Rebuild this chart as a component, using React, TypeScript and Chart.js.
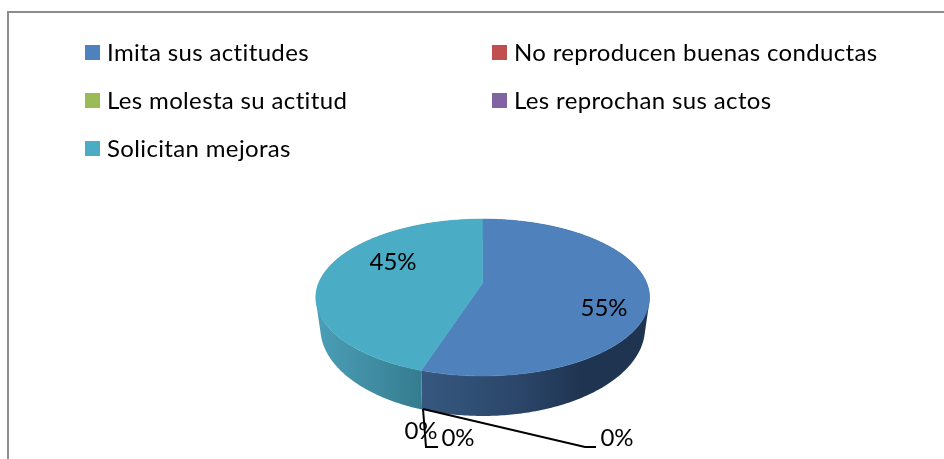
import React, { useEffect, useRef } from "react";
import { Chart, registerables } from "chart.js";

Chart.register(...registerables);

const categories = [
  "Imita sus actitudes",
  "No reproducen buenas conductas",
  "Les molesta su actitud",
  "Les reprochan sus actos",
  "Solicitan mejoras",
];
const values = [55, 0, 0, 0, 45];
const colors = ["#4F81BD", "#C0504D", "#9BBB59", "#8064A2", "#4BACC6"];
const sideStops: Record<number, [number, string][]> = {
  0: [[0, "#36587F"], [0.45, "#2A4568"], [0.7, "#1F3450"], [1, "#1F3450"]],
  4: [[0, "#4A9EB6"], [0.55, "#408CA2"], [1, "#357C8F"]],
};
const FONT = "24px Lato";
const legendCols = [85, 492];
const legendRows = [45, 93, 141];
const labelPos = [
  [604, 308],
  [617, 438],
  [458, 438],
  [421, 431],
  [393, 262],
];
const leaderLines = [
  [[423, 409], [585, 447], [596, 447]],
  [[423, 409], [426, 447], [438, 447]],
];

const K = 0.185;
function top(x: number, y: number, R: number, t: number) {
  const u = Math.sin(t), v = Math.cos(t), d = 1 + K * v;
  return [x + (R * u) / d, y - (0.462 * R * v) / d];
}
const K2 = 0.2;
function bottom(x: number, y: number, R: number, t: number) {
  const u = Math.sin(t), v = Math.cos(t), d = 1 + K2 * v;
  return [x + (0.97 * R * u) / d, y + 27.4 - (0.515 * R * v) / d];
}

const pie3d = {
  id: "pie3d",
  beforeDraw(chart: any) {
    const c = chart.ctx;
    c.save();
    c.fillStyle = "#fff";
    c.fillRect(0, 0, 944, 459);
    c.strokeStyle = "#8C8C8C";
    c.lineWidth = 2;
    c.beginPath();
    c.moveTo(8, 459);
    c.lineTo(8, 12);
    c.lineTo(944, 12);
    c.stroke();
    c.restore();
  },
  beforeDatasetDraw(chart: any) {
    const c = chart.ctx;
    const arcs = chart.getDatasetMeta(0).data;
    c.save();
    arcs.forEach((a: any, i: number) => {
      const { x, y, outerRadius: R, startAngle, endAngle } = a;
      const s = startAngle + Math.PI / 2, e = endAngle + Math.PI / 2;
      if (e - s < 1e-4) return;
      const N = Math.max(2, Math.ceil((e - s) * 80));
      const tp: number[][] = [], bt: number[][] = [];
      for (let j = 0; j <= N; j++) {
        const t = s + ((e - s) * j) / N;
        tp.push(top(x, y, R, t));
        bt.push(bottom(x, y, R, t));
      }
      const xs = tp.map((p) => p[0]);
      const front = tp.map((p, j) => j).filter((j) => Math.cos(s + ((e - s) * j) / N) < 0.05);
      const fx = front.map((j) => tp[j][0]);
      const g = c.createLinearGradient(Math.min(...(fx.length ? fx : xs)), 0, Math.max(...(fx.length ? fx : xs)), 0);
      (sideStops[i] || [[0, colors[i]], [1, colors[i]]]).forEach(([o, col]) => g.addColorStop(o, col));
      c.fillStyle = g;
      c.beginPath();
      for (let j = 0; j < N; j++) {
        let q = [tp[j], tp[j + 1], bt[j + 1], bt[j]];
        let area = 0;
        q.forEach((p, n) => {
          const r = q[(n + 1) % 4];
          area += p[0] * r[1] - r[0] * p[1];
        });
        if (area < 0) q = q.reverse();
        q.forEach((p, n) => (n ? c.lineTo(p[0], p[1]) : c.moveTo(p[0], p[1])));
        c.closePath();
      }
      c.fill();
    });
    arcs.forEach((a: any, i: number) => {
      const { x, y, outerRadius: R, startAngle, endAngle } = a;
      const s = startAngle + Math.PI / 2, e = endAngle + Math.PI / 2;
      if (e - s < 1e-4) return;
      const N = Math.ceil((e - s) * 60);
      c.fillStyle = colors[i];
      c.strokeStyle = colors[i];
      c.lineWidth = 0.5;
      c.beginPath();
      c.moveTo(x, y);
      for (let j = 0; j <= N; j++) {
        const p = top(x, y, R, s + ((e - s) * j) / N);
        c.lineTo(p[0], p[1]);
      }
      c.closePath();
      c.fill();
      c.stroke();
    });
    c.restore();
    return false;
  },
  afterDatasetsDraw(chart: any) {
    const c = chart.ctx;
    c.save();
    c.strokeStyle = "#000";
    c.lineWidth = 2;
    leaderLines.forEach((pts) => {
      c.beginPath();
      pts.forEach((p, j) => (j ? c.lineTo(p[0], p[1]) : c.moveTo(p[0], p[1])));
      c.stroke();
    });
    c.font = FONT;
    c.fillStyle = "#000";
    c.textBaseline = "middle";
    c.textAlign = "center";
    const data = chart.data.datasets[0].data as number[];
    const total = data.reduce((p, q) => p + q, 0);
    data.forEach((v, i) => {
      c.fillText(`${Math.round((v / total) * 100)}%`, labelPos[i][0], labelPos[i][1]);
    });
    c.textAlign = "left";
    c.letterSpacing = "0.35px";
    (chart.data.labels as string[]).forEach((name, i) => {
      const lx = legendCols[i % 2], ly = legendRows[Math.floor(i / 2)];
      c.fillStyle = colors[i];
      c.fillRect(lx, ly, 15, 15);
      c.fillStyle = "#000";
      c.fillText(name, lx + 22, ly + 8);
    });
    c.restore();
  },
};

export default function App() {
  const ref = useRef<HTMLCanvasElement>(null);
  useEffect(() => {
    const chart = new Chart(ref.current!, {
      type: "pie",
      data: {
        labels: categories,
        datasets: [{ data: values, backgroundColor: colors, borderWidth: 0 }],
      },
      options: {
        responsive: false,
        animation: false,
        layout: { padding: { left: 318.7, right: 297.3, top: 119, bottom: 12 } },
        plugins: { legend: { display: false }, tooltip: { enabled: false } },
      },
      plugins: [pie3d],
    } as any);
    return () => chart.destroy();
  }, []);
  return (
    <div style={{ position: "absolute", left: 0, top: 0, width: 944, height: 459, overflow: "hidden" }}>
      <canvas ref={ref} width={944} height={459} style={{ display: "block" }} />
    </div>
  );
}
